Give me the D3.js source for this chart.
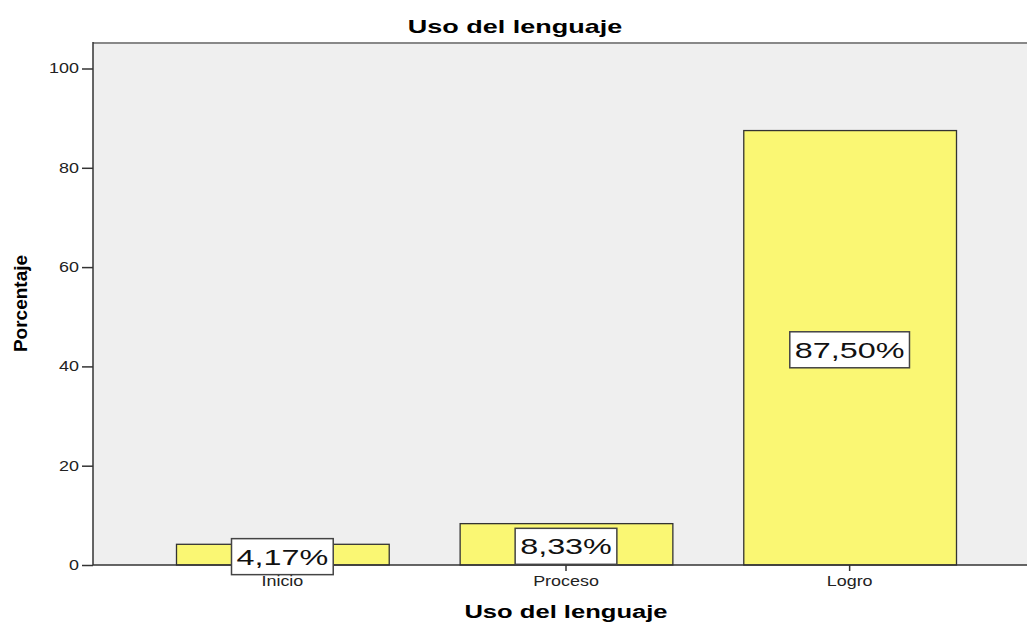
<!DOCTYPE html>
<html>
<head>
<meta charset="utf-8">
<script src="https://cdn.jsdelivr.net/npm/d3@7"></script>
<style>
  body { margin: 0; background: #fff; }
  text { font-family: "Liberation Sans", Arial, sans-serif; }
</style>
</head>
<body>
<div id="chart"></div>
<script>
// data
var categories = ["Inicio", "Proceso", "Logro"];
var percents = [4.17, 8.33, 87.50];
var labels = ["4,17%", "8,33%", "87,50%"];
var yTicks = [0, 20, 40, 60, 80, 100];

var width = 1027, height = 623;
var plotLeft = 93, plotRight = 1027, plotTop = 42, plotBottom = 565;

// the original text is drawn wider than Arial, so stretch it a bit
function widen(sel, f) {
  sel.each(function() {
    var w = this.getComputedTextLength();
    d3.select(this)
      .attr("textLength", w * f)
      .attr("lengthAdjust", "spacingAndGlyphs");
  });
}

var svg = d3.select("#chart")
            .append("svg")
            .attr("width", width)
            .attr("height", height);

var x = d3.scaleBand()
          .domain(categories)
          .range([176, 956])
          .paddingInner(0.25)
          .paddingOuter(0);

var y = d3.scaleLinear()
          .domain([0, 100])
          .range([plotBottom, 68.5]);

// plot background
svg.append("rect")
   .attr("x", plotLeft)
   .attr("y", plotTop)
   .attr("width", plotRight - plotLeft)
   .attr("height", plotBottom - plotTop)
   .style("fill", "#efefef");

svg.append("line")
   .attr("x1", plotLeft).attr("x2", plotRight)
   .attr("y1", plotTop + 1).attr("y2", plotTop + 1)
   .style("stroke", "#888")
   .style("stroke-width", 2);

// bars
svg.selectAll(".bar")
   .data(categories)
   .enter()
   .append("rect")
   .attr("class", "bar")
   .attr("x", function(d) { return x(d) + 0.5; })
   .attr("y", function(d, i) { return y(percents[i]); })
   .attr("width", x.bandwidth())
   .attr("height", function(d, i) { return plotBottom - y(percents[i]); })
   .style("fill", "#faf773")
   .style("stroke", "#333")
   .style("stroke-width", 1.3);

// axes
var yAxis = svg.append("g")
   .attr("transform", "translate(" + plotLeft + ",0)")
   .call(d3.axisLeft(y).tickValues(yTicks).tickSize(11).tickPadding(3));
yAxis.select(".domain").attr("d", "M0," + plotTop + "V" + plotBottom).style("stroke", "#333").style("stroke-width", 1.5);
yAxis.selectAll(".tick line").style("stroke", "#333").style("stroke-width", 1.5);
yAxis.selectAll("text").style("font-size", "14px").style("fill", "#222").call(widen, 1.28);

var xAxis = svg.append("g")
   .attr("transform", "translate(0," + plotBottom + ")")
   .call(d3.axisBottom(x).tickSize(6).tickPadding(5));
xAxis.select(".domain").attr("d", "M" + plotLeft + ",0H" + plotRight).style("stroke", "#333").style("stroke-width", 1.5);
xAxis.selectAll(".tick line").style("stroke", "#333").style("stroke-width", 1.5);
xAxis.selectAll("text").style("font-size", "14px").style("fill", "#222").call(widen, 1.28);

// value labels
var lab = svg.selectAll(".lab")
   .data(categories)
   .enter()
   .append("g")
   .attr("class", "lab")
   .attr("transform", function(d, i) {
     return "translate(" + (x(d) + x.bandwidth() / 2) + "," + ((y(percents[i]) + plotBottom) / 2 + 2) + ")";
   });

var labBox = lab.append("rect")
   .attr("y", -18)
   .attr("height", 36)
   .style("fill", "#fff")
   .style("stroke", "#444")
   .style("stroke-width", 1.5);

var labText = lab.append("text")
   .attr("text-anchor", "middle")
   .attr("dy", "0.36em")
   .style("font-size", "22px")
   .style("fill", "#111")
   .text(function(d, i) { return labels[i]; })
   .call(widen, 1.47);

labText.each(function(d, i) {
  var w = +d3.select(this).attr("textLength") + 10;
  d3.select(labBox.nodes()[i]).attr("x", -w / 2).attr("width", w);
});

// titles
svg.append("text")
   .attr("x", 515)
   .attr("y", 33)
   .attr("text-anchor", "middle")
   .style("font-size", "19px")
   .style("font-weight", "bold")
   .text("Uso del lenguaje")
   .call(widen, 1.42);

svg.append("text")
   .attr("x", 566)
   .attr("y", 618)
   .attr("text-anchor", "middle")
   .style("font-size", "18px")
   .style("font-weight", "bold")
   .text("Uso del lenguaje")
   .call(widen, 1.42);

svg.append("text")
   .attr("transform", "translate(27," + ((plotTop + plotBottom) / 2) + ") rotate(-90)")
   .attr("text-anchor", "middle")
   .style("font-size", "19px")
   .style("font-weight", "bold")
   .text("Porcentaje");
</script>
</body>
</html>
